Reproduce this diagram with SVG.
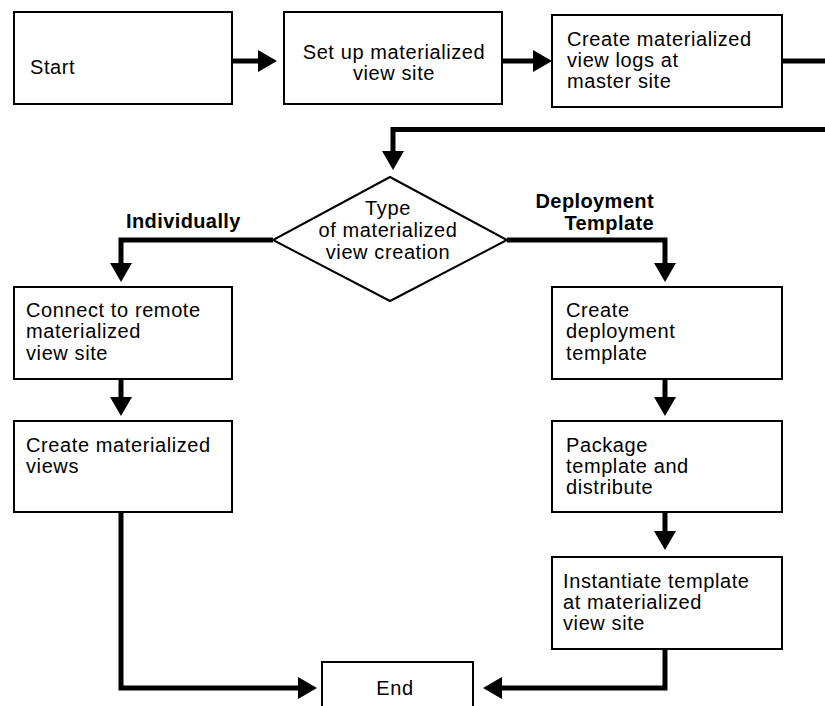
<svg xmlns="http://www.w3.org/2000/svg" width="825" height="706" viewBox="0 0 825 706">
<style>
.box{fill:#fff;stroke:#000;stroke-width:2}
.t{font-family:"Liberation Sans",Arial,Helvetica,sans-serif;font-size:20px;fill:#000;letter-spacing:0.6px}
.b{font-family:"Liberation Sans",Arial,Helvetica,sans-serif;font-size:20px;font-weight:bold;fill:#000;letter-spacing:0.4px}
.c{fill:none;stroke:#000;stroke-width:5;stroke-linejoin:miter}
</style>
<defs>
<marker id="ah" markerUnits="userSpaceOnUse" markerWidth="20" markerHeight="24" refX="0" refY="11" orient="auto" viewBox="0 0 20 22">
<path d="M0,0 L19,11 L0,22 z" fill="#000"/>
</marker>
</defs>
<rect width="825" height="706" fill="#fff"/>
<g id="connectors">
<path class="c" d="M232,61 H258" marker-end="url(#ah)"/>
<path class="c" d="M502,61 H533" marker-end="url(#ah)"/>
<path class="c" d="M782,61 H825"/>
<path class="c" d="M825,129.5 H393 V151" marker-end="url(#ah)"/>
<path class="c" d="M273,240 H121 V263" marker-end="url(#ah)"/>
<path class="c" d="M507,240 H665 V263" marker-end="url(#ah)"/>
<path class="c" d="M121,379 V397" marker-end="url(#ah)"/>
<path class="c" d="M665,379 V397" marker-end="url(#ah)"/>
<path class="c" d="M665,512 V531" marker-end="url(#ah)"/>
<path class="c" d="M121,512 V688 H298" marker-end="url(#ah)"/>
<path class="c" d="M665,649 V688 H502" marker-end="url(#ah)"/>
</g>
<g id="start">
<rect class="box" x="14" y="12" width="218" height="92"/>
<text class="t" x="30" y="74">Start</text>
</g>
<g id="setup">
<rect class="box" x="284" y="12" width="218" height="92"/>
<text class="t" x="394" y="59" text-anchor="middle">Set up materialized</text>
<text class="t" x="394" y="80" text-anchor="middle">view site</text>
</g>
<g id="logs">
<rect class="box" x="552" y="15" width="230" height="92"/>
<text class="t" x="567" y="46">Create materialized</text>
<text class="t" x="567" y="67">view logs at</text>
<text class="t" x="567" y="88">master site</text>
</g>
<g id="decision">
<polygon class="box" points="390,177 507,240 390,301 273,240"/>
<text class="t" x="388" y="215" text-anchor="middle">Type</text>
<text class="t" x="388" y="237" text-anchor="middle">of materialized</text>
<text class="t" x="388" y="259" text-anchor="middle">view creation</text>
</g>
<g id="label-individually">
<text class="b" x="126" y="228">Individually</text>
</g>
<g id="label-deployment">
<text class="b" x="654" y="208" text-anchor="end">Deployment</text>
<text class="b" x="654" y="230" text-anchor="end">Template</text>
</g>
<g id="connect">
<rect class="box" x="14" y="287" width="218" height="92"/>
<text class="t" x="26" y="317">Connect to remote</text>
<text class="t" x="26" y="338">materialized</text>
<text class="t" x="26" y="360">view site</text>
</g>
<g id="create-mv">
<rect class="box" x="14" y="421" width="218" height="91"/>
<text class="t" x="26" y="452">Create materialized</text>
<text class="t" x="26" y="473">views</text>
</g>
<g id="create-template">
<rect class="box" x="552" y="287" width="230" height="92"/>
<text class="t" x="566" y="317">Create</text>
<text class="t" x="566" y="338">deployment</text>
<text class="t" x="566" y="360">template</text>
</g>
<g id="package">
<rect class="box" x="552" y="421" width="230" height="91"/>
<text class="t" x="566" y="452">Package</text>
<text class="t" x="566" y="473">template and</text>
<text class="t" x="566" y="494">distribute</text>
</g>
<g id="instantiate">
<rect class="box" x="552" y="557" width="230" height="92"/>
<text class="t" x="563" y="588">Instantiate template</text>
<text class="t" x="563" y="609">at materialized</text>
<text class="t" x="563" y="630">view site</text>
</g>
<g id="end">
<rect class="box" x="322" y="662" width="151" height="60"/>
<text class="t" x="395" y="695" text-anchor="middle">End</text>
</g>
</svg>
